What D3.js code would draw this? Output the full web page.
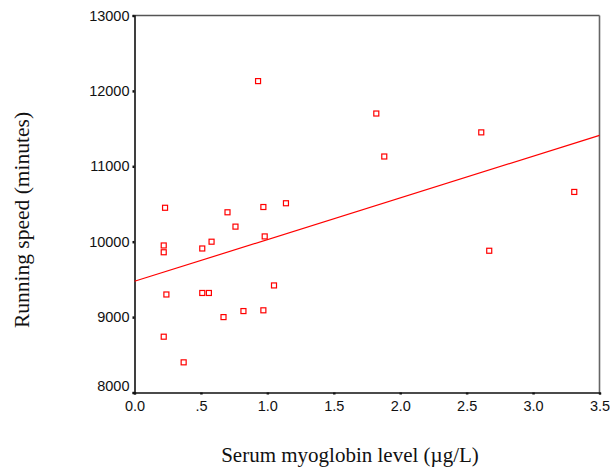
<!DOCTYPE html>
<html>
<head>
<meta charset="utf-8">
<script src="https://cdn.jsdelivr.net/npm/d3@7"></script>
<style>
  html, body { margin: 0; padding: 0; background: #fff; }
  svg { display: block; }
</style>
</head>
<body>
<svg id="chart" width="610" height="470"></svg>
<script>
// Data
const myoglobin = [0.93, 1.82, 2.61, 1.88, 3.31, 1.14, 0.23, 0.97, 0.70, 0.76, 0.98, 0.58, 0.22, 0.51, 0.22, 2.67, 1.05, 0.24, 0.51, 0.56, 0.67, 0.82, 0.97, 0.22, 0.37];
const runningSpeed = [12130, 11700, 11450, 11130, 10660, 10510, 10450, 10460, 10390, 10200, 10070, 10000, 9950, 9910, 9860, 9880, 9420, 9300, 9320, 9320, 9000, 9080, 9090, 8740, 8400];
const fitX = [0, 3.5];
const fitY = [9475, 11410];
const xTicks = [0, 0.5, 1.0, 1.5, 2.0, 2.5, 3.0, 3.5];
const xTickLabels = ["0.0", ".5", "1.0", "1.5", "2.0", "2.5", "3.0", "3.5"];
const yTicks = [8000, 9000, 10000, 11000, 12000, 13000];
const yTickLabels = ["8000", "9000", "10000", "11000", "12000", "13000"];

(function () {
const svg = d3.select("#chart");
const mLeft = 134.5, mRight = 599.5, mTop = 15.5, mBottom = 392.5;

const x = d3.scaleLinear().domain([0, 3.5]).range([mLeft, mRight]);
const y = d3.scaleLinear().domain([8000, 13000]).range([mBottom, mTop]);

// frame (top and right)
svg.append("line").attr("x1", mLeft).attr("x2", mRight).attr("y1", mTop).attr("y2", mTop)
  .attr("stroke", "#555").attr("stroke-width", 1.3);
svg.append("line").attr("x1", mRight).attr("x2", mRight).attr("y1", mTop).attr("y2", mBottom)
  .attr("stroke", "#666").attr("stroke-width", 1.6);

// axes
const xAxis = d3.axisBottom(x).tickValues(xTicks)
  .tickFormat((d, i) => xTickLabels[i]).tickSize(2).tickPadding(6);
const yAxis = d3.axisLeft(y).tickValues(yTicks)
  .tickFormat((d, i) => yTickLabels[i]).tickSize(2).tickPadding(3);

const gx = svg.append("g").attr("transform", `translate(0,${mBottom})`).call(xAxis);
const gy = svg.append("g").attr("transform", `translate(${mLeft},0)`).call(yAxis);

[gx, gy].forEach(g => {
  g.select(".domain").attr("stroke", "#111").attr("stroke-width", 1.6);
  g.selectAll(".tick line").attr("stroke", "#111").attr("stroke-width", 2.5);
  g.selectAll(".tick text").attr("fill", "#111")
    .style("font-family", "'Liberation Sans', Arial, sans-serif").style("font-size", "14.5px");
});
gx.selectAll(".tick text").attr("dy", "0.71em");
// lowest y label sits slightly above its tick, as in the reference
gy.selectAll(".tick text").filter(d => d === yTicks[0]).attr("dy", "-0.15em");

// fit line
svg.append("line")
  .attr("x1", x(fitX[0])).attr("y1", y(fitY[0]))
  .attr("x2", x(fitX[1])).attr("y2", y(fitY[1]))
  .attr("stroke", "#ff0000").attr("stroke-width", 1.2);

// points
svg.append("g").selectAll("rect")
  .data(myoglobin.map((v, i) => [v, runningSpeed[i]]))
  .join("rect")
  .attr("x", d => x(d[0]) - 2.5)
  .attr("y", d => y(d[1]) - 2.5)
  .attr("width", 5).attr("height", 5)
  .attr("fill", "none").attr("stroke", "#ff0000").attr("stroke-width", 1.2);

// axis titles
svg.append("text")
  .attr("transform", `translate(29,220) rotate(-90)`)
  .attr("text-anchor", "middle")
  .style("font-family", "'Liberation Serif', 'Times New Roman', serif")
  .style("font-size", "21.5px").attr("fill", "#111")
  .text("Running speed (minutes)");

svg.append("text")
  .attr("x", 350).attr("y", 462)
  .attr("text-anchor", "middle")
  .style("font-family", "'Liberation Serif', 'Times New Roman', serif")
  .style("font-size", "21px").attr("fill", "#111")
  .text("Serum myoglobin level (\u00b5g/L)");
})();
</script>
</body>
</html>
